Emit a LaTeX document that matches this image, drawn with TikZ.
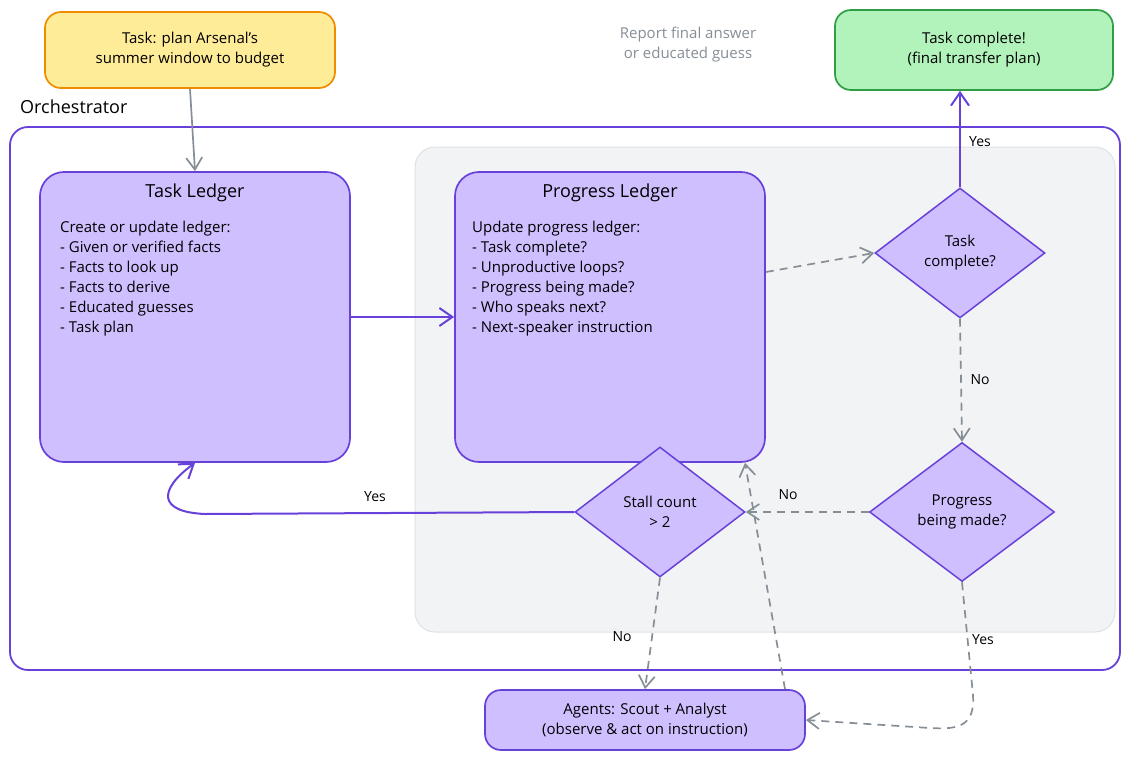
\documentclass[tikz,border=0pt]{standalone}
\usepackage{fontspec}
\setmainfont{Open Sans}
\usetikzlibrary{shapes.geometric,arrows.meta}
\definecolor{vio}{HTML}{6741D9}
\definecolor{viofill}{HTML}{D0BFFF}
\definecolor{arrgray}{HTML}{868E96}
\definecolor{yelfill}{HTML}{FFEC99}
\definecolor{orng}{HTML}{F08C00}
\definecolor{grnfill}{HTML}{B2F2BB}
\definecolor{grn}{HTML}{2F9E44}
\definecolor{panelfill}{HTML}{F1F3F5}
\definecolor{paneldraw}{HTML}{DEE2E6}
\begin{document}
\begin{tikzpicture}[x=1pt,y=-1pt,
  txt/.style={font=\fontsize{15}{20}\selectfont, text=black},
  ttl/.style={font=\fontsize{18}{20}\selectfont, text=black, inner sep=0pt},
  rbox/.style={draw=vio, fill=viofill, line width=1.7pt, rounded corners=16pt, inner sep=0pt},
  ledger/.style={rbox, rounded corners=24pt, minimum width=310pt, minimum height=290pt},
  dia/.style={diamond, draw=vio, fill=viofill, line width=1.5pt, inner sep=0pt, align=center, txt},
  garr/.style={draw=arrgray, line width=1.7pt, -{Straight Barb[length=12pt,width=16pt]}},
  gdash/.style={garr, dash pattern=on 8pt off 6pt},
  varr/.style={draw=vio, line width=2pt, -{Straight Barb[length=13pt,width=18pt]}},
  lbl/.style={font=\fontsize{14}{16}\selectfont, text=black, inner sep=0pt}
]
\useasboundingbox (0,0) rectangle (1130,760);

% containers
\node[draw=vio, line width=1.8pt, rounded corners=18pt, minimum width=1110pt, minimum height=543pt] (orch) at (565,398.5) {};
\node[anchor=west, inner sep=0pt, font=\fontsize{18}{20}\selectfont] (orchlbl) at (20,107) {Orchestrator};
\node[draw=paneldraw, fill=panelfill, line width=1pt, rounded corners=20pt, minimum width=700pt, minimum height=485pt] (panel) at (765,389.5) {};

% top boxes
\node[rbox, draw=orng, fill=yelfill, minimum width=290pt, minimum height=76pt, align=center, txt] (task) at (190,50) {Task: plan Arsenal's\\summer window to budget};
\node[rbox, draw=grn, fill=grnfill, minimum width=278pt, minimum height=80pt, align=center, txt] (done) at (974,50) {Task complete!\\(final transfer plan)};
\node[align=center, txt, text=arrgray, inner sep=0pt] (report) at (688,45) {Report final answer\\or educated guess};

% ledgers
\node[ledger] (tl) at (195,317) {};
\node[ttl] (tltitle) at (195,193) {Task Ledger};
\node[txt, anchor=north west, align=left, inner sep=0pt] (tlbody) at (60,221) {Create or update ledger:\\- Given or verified facts\\- Facts to look up\\- Facts to derive\\- Educated guesses\\- Task plan};

\node[ledger] (pl) at (610,317) {};
\node[ttl] (pltitle) at (610,193) {Progress Ledger};
\node[txt, anchor=north west, align=left, inner sep=0pt] (plbody) at (472,221) {Update progress ledger:\\- Task complete?\\- Unproductive loops?\\- Progress being made?\\- Who speaks next?\\- Next-speaker instruction};

% diamonds
\node[dia, minimum width=170pt, minimum height=130pt] (tc) at (960,253) {Task\\complete?};
\node[dia, minimum width=185pt, minimum height=139pt] (pm) at (962,512) {Progress\\being made?};
\node[dia, minimum width=170pt, minimum height=130pt] (st) at (660,512) {Stall count\\> 2};

% agents
\node[rbox, minimum width=320pt, minimum height=60pt, align=center, txt] (ag) at (645,720) {Agents: Scout + Analyst\\(observe \& act on instruction)};

% connectors
\draw[garr] (task.south) -- (tl.north);
\draw[varr] (tl.east) -- (pl.west);
\draw[gdash] ([yshift=45pt]pl.east) -- (tc.west);
\draw[varr] (tc.north) -- (tc.north |- done.south);
\draw[gdash] (tc.south) -- (pm.north);
\draw[gdash] (pm.west) -- (st.east);
\draw[gdash] (pm.south) -- (973,695) .. controls (975,725) and (960,730) .. (930,728) -- (ag.east);
\draw[varr] (st.west) -- (205,514) .. controls (158,512) and (158,490) .. (tl.south);
\draw[gdash] (st.south) -- (ag.north);
\draw[gdash] ([xshift=140pt]ag.north) -- ([xshift=135pt]pl.south);

% labels
\node[lbl] (l1) at (980,142) {Yes};
\node[lbl] (l2) at (980,380) {No};
\node[lbl] (l3) at (788,495) {No};
\node[lbl] (l4) at (983,640) {Yes};
\node[lbl] (l5) at (375,497) {Yes};
\node[lbl] (l6) at (622,637) {No};
\end{tikzpicture}
\end{document}
